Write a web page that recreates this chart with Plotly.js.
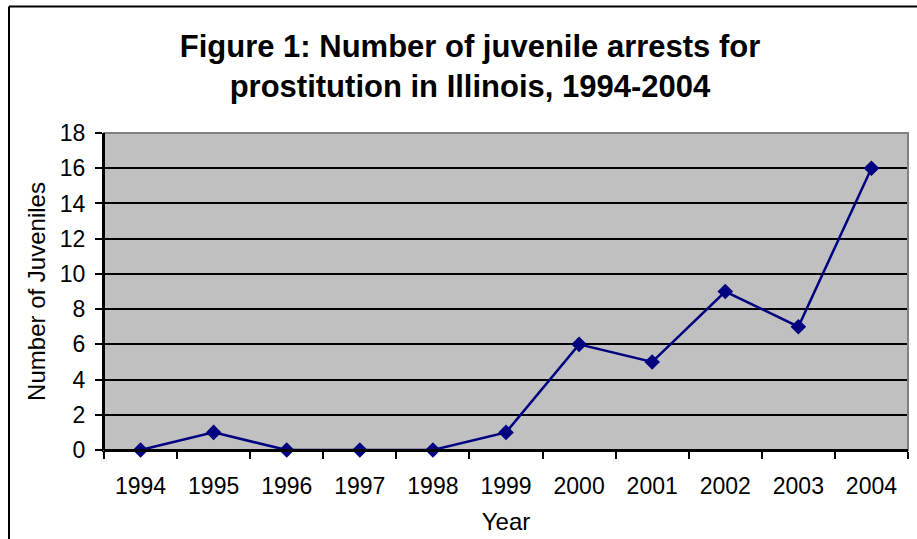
<!DOCTYPE html>
<html>
<head>
<meta charset="utf-8">
<script src="https://cdn.plot.ly/plotly-3.0.1.min.js"></script>
<style>
body { margin: 0; padding: 0; background: #fff; }
#chart { width: 917px; height: 539px; }
</style>
</head>
<body>
<div id="chart"></div>
<script>
const years = ["1994","1995","1996","1997","1998","1999","2000","2001","2002","2003","2004"];
const arrests = [0, 1, 0, 0, 0, 1, 6, 5, 9, 7, 16];
const yTicks = [0, 2, 4, 6, 8, 10, 12, 14, 16, 18];
const titleText = "Figure 1: Number of juvenile arrests for<br>prostitution in Illinois, 1994-2004";
const xTitle = "Year";
const yTitle = "Number of Juveniles";

const W = 917, H = 539;
const L = 104, R = 9, T = 133, B = 89;
const pw = W - L - R, ph = H - T - B;
function px(x) { return (x - L) / pw; }
function py(y) { return (H - B - y) / ph; }

const trace = {
  type: "scatter",
  mode: "lines+markers",
  x: years,
  y: arrests,
  line: { color: "#000080", width: 2.5 },
  marker: { symbol: "diamond", size: 12, color: "#000080", line: { width: 0 } },
  cliponaxis: false,
  hoverinfo: "x+y"
};

const layout = {
  width: W,
  height: H,
  margin: { l: L, r: R, t: T, b: B, pad: 0 },
  paper_bgcolor: "#ffffff",
  plot_bgcolor: "#C0C0C0",
  showlegend: false,
  font: { family: "Liberation Sans, Arial, sans-serif", color: "#000000" },
  title: {
    text: titleText,
    font: { family: "Liberation Sans, Arial, sans-serif", size: 31, color: "#000", weight: "bold" },
    xref: "container", x: 470 / W, xanchor: "center",
    yref: "container", y: 1 - 57 / H, yanchor: "top"
  },
  xaxis: {
    type: "category",
    range: [-0.5, 10.5],
    tickson: "boundaries",
    ticks: "outside",
    ticklen: 7,
    tickwidth: 2,
    tickcolor: "#000",
    showline: true,
    linecolor: "#000",
    linewidth: 2,
    showgrid: false,
    zeroline: false,
    tickfont: { size: 23, color: "#000" },
    ticklabelstandoff: 14,
    title: { text: xTitle, font: { size: 24, color: "#000" }, standoff: 16 },
    fixedrange: true
  },
  yaxis: {
    range: [0, 18],
    tickvals: yTicks,
    ticktext: yTicks.map(String),
    ticks: "outside",
    ticklen: 7,
    tickwidth: 2,
    tickcolor: "#000",
    showline: true,
    linecolor: "#000",
    linewidth: 2,
    showgrid: true,
    gridcolor: "#000",
    gridwidth: 2,
    zeroline: false,
    tickfont: { size: 23, color: "#000" },
    ticklabelstandoff: 5,
    title: { text: yTitle, font: { size: 24, color: "#000" }, standoff: 7 },
    fixedrange: true
  },
  shapes: [
    {
      type: "rect", xref: "paper", yref: "paper", layer: "above",
      x0: 0, x1: 1, y0: 0, y1: 1,
      line: { color: "#808080", width: 2 }, fillcolor: "rgba(0,0,0,0)"
    },
    {
      type: "line", xref: "paper", yref: "paper", layer: "above",
      x0: 0, x1: 0, y0: 0, y1: 1,
      line: { color: "#000", width: 2 }
    },
    {
      type: "line", xref: "paper", yref: "paper", layer: "above",
      x0: 0, x1: 1, y0: 0, y1: 0,
      line: { color: "#000", width: 2 }
    },
    {
      type: "line", xref: "paper", yref: "paper", layer: "above",
      x0: px(9), x1: px(930), y0: py(6.5), y1: py(6.5),
      line: { color: "#000", width: 2 }
    },
    {
      type: "line", xref: "paper", yref: "paper", layer: "above",
      x0: px(9), x1: px(9), y0: py(6.5), y1: py(560),
      line: { color: "#000", width: 2 }
    }
  ]
};

Plotly.newPlot("chart", [trace], layout, { displayModeBar: false, staticPlot: true });
</script>
</body>
</html>
